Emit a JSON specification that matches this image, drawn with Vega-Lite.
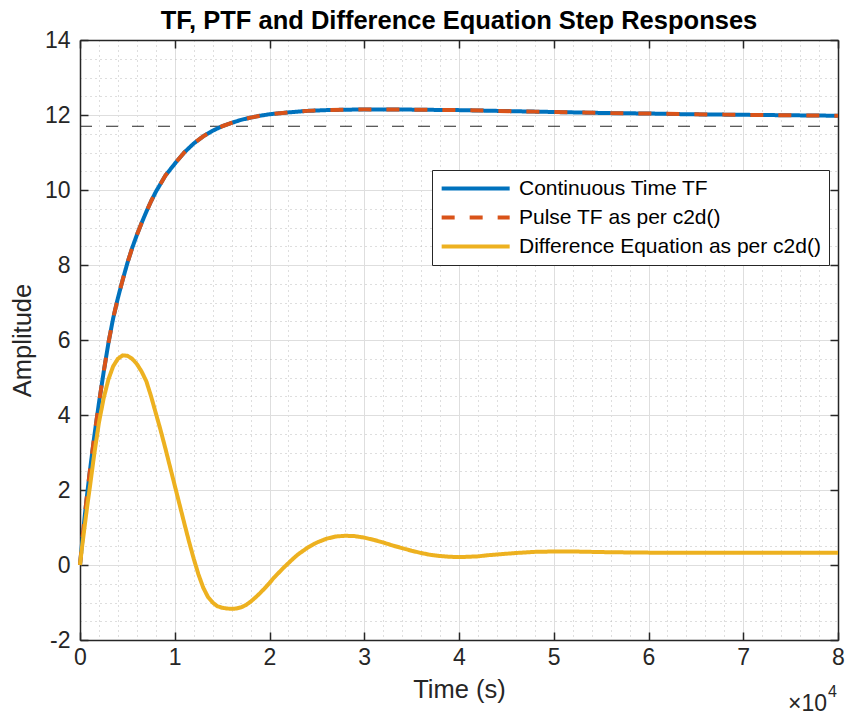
{
  "$schema": "https://vega.github.io/schema/vega-lite/v6.json",
  "width": 758,
  "height": 600,
  "autosize": {"type": "none"},
  "padding": {"left": 80, "top": 40, "right": 7, "bottom": 75},
  "background": "white",
  "config": {"view": {"stroke": null}, "font": "Liberation Sans"},
  "title": {"text": "TF, PTF and Difference Equation Step Responses", "fontSize": 25.5, "fontWeight": "bold", "font": "Liberation Sans", "color": "#000000", "offset": 9, "dy": 14, "anchor": "middle"},
  "datasets": {
    "resp": [
      {"t": 0, "y": 0, "s": "Continuous Time TF"},
      {"t": 250, "y": 0.67, "s": "Continuous Time TF"},
      {"t": 500, "y": 1.3, "s": "Continuous Time TF"},
      {"t": 750, "y": 1.88, "s": "Continuous Time TF"},
      {"t": 1000, "y": 2.42, "s": "Continuous Time TF"},
      {"t": 1500, "y": 3.42, "s": "Continuous Time TF"},
      {"t": 2000, "y": 4.32, "s": "Continuous Time TF"},
      {"t": 2500, "y": 5.15, "s": "Continuous Time TF"},
      {"t": 3000, "y": 5.92, "s": "Continuous Time TF"},
      {"t": 3500, "y": 6.58, "s": "Continuous Time TF"},
      {"t": 4000, "y": 7.12, "s": "Continuous Time TF"},
      {"t": 4500, "y": 7.6, "s": "Continuous Time TF"},
      {"t": 5000, "y": 8.05, "s": "Continuous Time TF"},
      {"t": 5500, "y": 8.45, "s": "Continuous Time TF"},
      {"t": 6000, "y": 8.8, "s": "Continuous Time TF"},
      {"t": 6500, "y": 9.12, "s": "Continuous Time TF"},
      {"t": 7000, "y": 9.42, "s": "Continuous Time TF"},
      {"t": 7500, "y": 9.7, "s": "Continuous Time TF"},
      {"t": 8000, "y": 9.95, "s": "Continuous Time TF"},
      {"t": 9000, "y": 10.38, "s": "Continuous Time TF"},
      {"t": 10000, "y": 10.7, "s": "Continuous Time TF"},
      {"t": 11000, "y": 11.0, "s": "Continuous Time TF"},
      {"t": 12000, "y": 11.24, "s": "Continuous Time TF"},
      {"t": 13000, "y": 11.43, "s": "Continuous Time TF"},
      {"t": 14000, "y": 11.58, "s": "Continuous Time TF"},
      {"t": 15000, "y": 11.7, "s": "Continuous Time TF"},
      {"t": 16000, "y": 11.79, "s": "Continuous Time TF"},
      {"t": 17000, "y": 11.87, "s": "Continuous Time TF"},
      {"t": 18000, "y": 11.93, "s": "Continuous Time TF"},
      {"t": 19000, "y": 11.98, "s": "Continuous Time TF"},
      {"t": 20000, "y": 12.02, "s": "Continuous Time TF"},
      {"t": 22000, "y": 12.07, "s": "Continuous Time TF"},
      {"t": 24000, "y": 12.11, "s": "Continuous Time TF"},
      {"t": 26000, "y": 12.13, "s": "Continuous Time TF"},
      {"t": 28000, "y": 12.14, "s": "Continuous Time TF"},
      {"t": 30000, "y": 12.15, "s": "Continuous Time TF"},
      {"t": 33000, "y": 12.15, "s": "Continuous Time TF"},
      {"t": 36000, "y": 12.14, "s": "Continuous Time TF"},
      {"t": 40000, "y": 12.13, "s": "Continuous Time TF"},
      {"t": 44000, "y": 12.11, "s": "Continuous Time TF"},
      {"t": 48000, "y": 12.09, "s": "Continuous Time TF"},
      {"t": 52000, "y": 12.07, "s": "Continuous Time TF"},
      {"t": 56000, "y": 12.05, "s": "Continuous Time TF"},
      {"t": 60000, "y": 12.04, "s": "Continuous Time TF"},
      {"t": 64000, "y": 12.02, "s": "Continuous Time TF"},
      {"t": 68000, "y": 12.01, "s": "Continuous Time TF"},
      {"t": 72000, "y": 12.0, "s": "Continuous Time TF"},
      {"t": 76000, "y": 11.99, "s": "Continuous Time TF"},
      {"t": 80000, "y": 11.98, "s": "Continuous Time TF"},

      {"t": 0, "y": 0, "s": "Pulse TF as per c2d()"},
      {"t": 250, "y": 0.67, "s": "Pulse TF as per c2d()"},
      {"t": 500, "y": 1.3, "s": "Pulse TF as per c2d()"},
      {"t": 750, "y": 1.88, "s": "Pulse TF as per c2d()"},
      {"t": 1000, "y": 2.42, "s": "Pulse TF as per c2d()"},
      {"t": 1500, "y": 3.42, "s": "Pulse TF as per c2d()"},
      {"t": 2000, "y": 4.32, "s": "Pulse TF as per c2d()"},
      {"t": 2500, "y": 5.15, "s": "Pulse TF as per c2d()"},
      {"t": 3000, "y": 5.92, "s": "Pulse TF as per c2d()"},
      {"t": 3500, "y": 6.58, "s": "Pulse TF as per c2d()"},
      {"t": 4000, "y": 7.12, "s": "Pulse TF as per c2d()"},
      {"t": 4500, "y": 7.6, "s": "Pulse TF as per c2d()"},
      {"t": 5000, "y": 8.05, "s": "Pulse TF as per c2d()"},
      {"t": 5500, "y": 8.45, "s": "Pulse TF as per c2d()"},
      {"t": 6000, "y": 8.8, "s": "Pulse TF as per c2d()"},
      {"t": 6500, "y": 9.12, "s": "Pulse TF as per c2d()"},
      {"t": 7000, "y": 9.42, "s": "Pulse TF as per c2d()"},
      {"t": 7500, "y": 9.7, "s": "Pulse TF as per c2d()"},
      {"t": 8000, "y": 9.95, "s": "Pulse TF as per c2d()"},
      {"t": 9000, "y": 10.38, "s": "Pulse TF as per c2d()"},
      {"t": 10000, "y": 10.7, "s": "Pulse TF as per c2d()"},
      {"t": 11000, "y": 11.0, "s": "Pulse TF as per c2d()"},
      {"t": 12000, "y": 11.24, "s": "Pulse TF as per c2d()"},
      {"t": 13000, "y": 11.43, "s": "Pulse TF as per c2d()"},
      {"t": 14000, "y": 11.58, "s": "Pulse TF as per c2d()"},
      {"t": 15000, "y": 11.7, "s": "Pulse TF as per c2d()"},
      {"t": 16000, "y": 11.79, "s": "Pulse TF as per c2d()"},
      {"t": 17000, "y": 11.87, "s": "Pulse TF as per c2d()"},
      {"t": 18000, "y": 11.93, "s": "Pulse TF as per c2d()"},
      {"t": 19000, "y": 11.98, "s": "Pulse TF as per c2d()"},
      {"t": 20000, "y": 12.02, "s": "Pulse TF as per c2d()"},
      {"t": 22000, "y": 12.07, "s": "Pulse TF as per c2d()"},
      {"t": 24000, "y": 12.11, "s": "Pulse TF as per c2d()"},
      {"t": 26000, "y": 12.13, "s": "Pulse TF as per c2d()"},
      {"t": 28000, "y": 12.14, "s": "Pulse TF as per c2d()"},
      {"t": 30000, "y": 12.15, "s": "Pulse TF as per c2d()"},
      {"t": 33000, "y": 12.15, "s": "Pulse TF as per c2d()"},
      {"t": 36000, "y": 12.14, "s": "Pulse TF as per c2d()"},
      {"t": 40000, "y": 12.13, "s": "Pulse TF as per c2d()"},
      {"t": 44000, "y": 12.11, "s": "Pulse TF as per c2d()"},
      {"t": 48000, "y": 12.09, "s": "Pulse TF as per c2d()"},
      {"t": 52000, "y": 12.07, "s": "Pulse TF as per c2d()"},
      {"t": 56000, "y": 12.05, "s": "Pulse TF as per c2d()"},
      {"t": 60000, "y": 12.04, "s": "Pulse TF as per c2d()"},
      {"t": 64000, "y": 12.02, "s": "Pulse TF as per c2d()"},
      {"t": 68000, "y": 12.01, "s": "Pulse TF as per c2d()"},
      {"t": 72000, "y": 12.0, "s": "Pulse TF as per c2d()"},
      {"t": 76000, "y": 11.99, "s": "Pulse TF as per c2d()"},
      {"t": 80000, "y": 11.98, "s": "Pulse TF as per c2d()"},

      {"t": 0, "y": 0, "s": "Difference Equation as per c2d()"},
      {"t": 250, "y": 0.55, "s": "Difference Equation as per c2d()"},
      {"t": 500, "y": 1.05, "s": "Difference Equation as per c2d()"},
      {"t": 750, "y": 1.55, "s": "Difference Equation as per c2d()"},
      {"t": 1000, "y": 2.0, "s": "Difference Equation as per c2d()"},
      {"t": 1500, "y": 2.95, "s": "Difference Equation as per c2d()"},
      {"t": 2000, "y": 3.8, "s": "Difference Equation as per c2d()"},
      {"t": 2500, "y": 4.45, "s": "Difference Equation as per c2d()"},
      {"t": 3000, "y": 4.95, "s": "Difference Equation as per c2d()"},
      {"t": 3500, "y": 5.3, "s": "Difference Equation as per c2d()"},
      {"t": 4000, "y": 5.5, "s": "Difference Equation as per c2d()"},
      {"t": 4500, "y": 5.59, "s": "Difference Equation as per c2d()"},
      {"t": 5000, "y": 5.58, "s": "Difference Equation as per c2d()"},
      {"t": 5500, "y": 5.5, "s": "Difference Equation as per c2d()"},
      {"t": 6000, "y": 5.36, "s": "Difference Equation as per c2d()"},
      {"t": 6500, "y": 5.16, "s": "Difference Equation as per c2d()"},
      {"t": 7000, "y": 4.9, "s": "Difference Equation as per c2d()"},
      {"t": 7500, "y": 4.5, "s": "Difference Equation as per c2d()"},
      {"t": 8000, "y": 4.05, "s": "Difference Equation as per c2d()"},
      {"t": 8500, "y": 3.6, "s": "Difference Equation as per c2d()"},
      {"t": 9000, "y": 3.12, "s": "Difference Equation as per c2d()"},
      {"t": 9500, "y": 2.62, "s": "Difference Equation as per c2d()"},
      {"t": 10000, "y": 2.12, "s": "Difference Equation as per c2d()"},
      {"t": 10500, "y": 1.62, "s": "Difference Equation as per c2d()"},
      {"t": 11000, "y": 1.12, "s": "Difference Equation as per c2d()"},
      {"t": 11500, "y": 0.63, "s": "Difference Equation as per c2d()"},
      {"t": 12000, "y": 0.17, "s": "Difference Equation as per c2d()"},
      {"t": 12500, "y": -0.25, "s": "Difference Equation as per c2d()"},
      {"t": 13000, "y": -0.6, "s": "Difference Equation as per c2d()"},
      {"t": 13500, "y": -0.85, "s": "Difference Equation as per c2d()"},
      {"t": 14000, "y": -1.0, "s": "Difference Equation as per c2d()"},
      {"t": 14500, "y": -1.1, "s": "Difference Equation as per c2d()"},
      {"t": 15000, "y": -1.14, "s": "Difference Equation as per c2d()"},
      {"t": 15500, "y": -1.16, "s": "Difference Equation as per c2d()"},
      {"t": 16000, "y": -1.17, "s": "Difference Equation as per c2d()"},
      {"t": 16500, "y": -1.16, "s": "Difference Equation as per c2d()"},
      {"t": 17000, "y": -1.13, "s": "Difference Equation as per c2d()"},
      {"t": 17500, "y": -1.07, "s": "Difference Equation as per c2d()"},
      {"t": 18000, "y": -0.98, "s": "Difference Equation as per c2d()"},
      {"t": 18500, "y": -0.87, "s": "Difference Equation as per c2d()"},
      {"t": 19000, "y": -0.75, "s": "Difference Equation as per c2d()"},
      {"t": 19500, "y": -0.62, "s": "Difference Equation as per c2d()"},
      {"t": 20000, "y": -0.48, "s": "Difference Equation as per c2d()"},
      {"t": 20500, "y": -0.33, "s": "Difference Equation as per c2d()"},
      {"t": 21000, "y": -0.2, "s": "Difference Equation as per c2d()"},
      {"t": 21500, "y": -0.07, "s": "Difference Equation as per c2d()"},
      {"t": 22000, "y": 0.05, "s": "Difference Equation as per c2d()"},
      {"t": 22500, "y": 0.17, "s": "Difference Equation as per c2d()"},
      {"t": 23000, "y": 0.28, "s": "Difference Equation as per c2d()"},
      {"t": 24000, "y": 0.46, "s": "Difference Equation as per c2d()"},
      {"t": 25000, "y": 0.6, "s": "Difference Equation as per c2d()"},
      {"t": 26000, "y": 0.7, "s": "Difference Equation as per c2d()"},
      {"t": 27000, "y": 0.76, "s": "Difference Equation as per c2d()"},
      {"t": 28000, "y": 0.78, "s": "Difference Equation as per c2d()"},
      {"t": 29000, "y": 0.77, "s": "Difference Equation as per c2d()"},
      {"t": 30000, "y": 0.73, "s": "Difference Equation as per c2d()"},
      {"t": 31000, "y": 0.67, "s": "Difference Equation as per c2d()"},
      {"t": 32000, "y": 0.6, "s": "Difference Equation as per c2d()"},
      {"t": 33000, "y": 0.52, "s": "Difference Equation as per c2d()"},
      {"t": 34000, "y": 0.45, "s": "Difference Equation as per c2d()"},
      {"t": 35000, "y": 0.38, "s": "Difference Equation as per c2d()"},
      {"t": 36000, "y": 0.32, "s": "Difference Equation as per c2d()"},
      {"t": 37000, "y": 0.27, "s": "Difference Equation as per c2d()"},
      {"t": 38000, "y": 0.24, "s": "Difference Equation as per c2d()"},
      {"t": 39000, "y": 0.22, "s": "Difference Equation as per c2d()"},
      {"t": 40000, "y": 0.21, "s": "Difference Equation as per c2d()"},
      {"t": 41000, "y": 0.22, "s": "Difference Equation as per c2d()"},
      {"t": 42000, "y": 0.23, "s": "Difference Equation as per c2d()"},
      {"t": 43000, "y": 0.26, "s": "Difference Equation as per c2d()"},
      {"t": 44000, "y": 0.28, "s": "Difference Equation as per c2d()"},
      {"t": 46000, "y": 0.32, "s": "Difference Equation as per c2d()"},
      {"t": 48000, "y": 0.35, "s": "Difference Equation as per c2d()"},
      {"t": 50000, "y": 0.36, "s": "Difference Equation as per c2d()"},
      {"t": 52000, "y": 0.36, "s": "Difference Equation as per c2d()"},
      {"t": 54000, "y": 0.35, "s": "Difference Equation as per c2d()"},
      {"t": 56000, "y": 0.34, "s": "Difference Equation as per c2d()"},
      {"t": 60000, "y": 0.33, "s": "Difference Equation as per c2d()"},
      {"t": 65000, "y": 0.33, "s": "Difference Equation as per c2d()"},
      {"t": 70000, "y": 0.33, "s": "Difference Equation as per c2d()"},
      {"t": 75000, "y": 0.33, "s": "Difference Equation as per c2d()"},
      {"t": 80000, "y": 0.33, "s": "Difference Equation as per c2d()"}
    ]
  },
  "layer": [
    {
      "data": {"values": [{}]},
      "mark": {"type": "rule", "color": "#262626", "strokeWidth": 1, "strokeDash": [12, 14]},
      "encoding": {
        "x": {"datum": 0, "type": "quantitative", "scale": {"domain": [0, 80000], "nice": false, "zero": false},
          "axis": {"orient": "top", "title": null, "labels": false, "grid": false, "values": [0, 10000, 20000, 30000, 40000, 50000, 60000, 70000, 80000], "domainColor": "#262626", "domainWidth": 1.5, "tickColor": "#262626", "tickWidth": 1.5, "tickSize": -8}},
        "x2": {"datum": 80000},
        "y": {"datum": 11.7, "type": "quantitative", "scale": {"domain": [-2, 14], "nice": false, "zero": false},
          "axis": {"orient": "right", "title": null, "labels": false, "grid": false, "values": [-2, 0, 2, 4, 6, 8, 10, 12, 14], "domainColor": "#262626", "domainWidth": 1.5, "tickColor": "#262626", "tickWidth": 1.5, "tickSize": -8}}
      }
    },
    {
      "data": {"name": "resp"},
      "mark": {"type": "line", "strokeWidth": 4, "strokeCap": "butt", "strokeJoin": "round"},
      "encoding": {
        "x": {"field": "t", "type": "quantitative", "scale": {"domain": [0, 80000], "nice": false, "zero": false},
          "axis": {
            "orient": "bottom", "title": "Time (s)",
            "values": [0, 2000, 4000, 6000, 8000, 10000, 12000, 14000, 16000, 18000, 20000, 22000, 24000, 26000, 28000, 30000, 32000, 34000, 36000, 38000, 40000, 42000, 44000, 46000, 48000, 50000, 52000, 54000, 56000, 58000, 60000, 62000, 64000, 66000, 68000, 70000, 72000, 74000, 76000, 78000, 80000],
            "labelExpr": "datum.value % 10000 === 0 ? '' + (datum.value / 10000) : ''",
            "labelFontSize": 23, "labelColor": "#262626", "labelPadding": 14, "labelFlush": false, "labelOverlap": false, "labelBound": false,
            "titleFontSize": 25.5, "titleFontWeight": "normal", "titleColor": "#262626", "titlePadding": 8,
            "domainColor": "#262626", "domainWidth": 1.5,
            "tickColor": "#262626", "tickWidth": 1.5, "tickSize": -8,
            "tickOpacity": {"condition": {"test": "datum.value % 10000 === 0", "value": 1}, "value": 0},
            "grid": true, "gridWidth": 1,
            "gridColor": {"condition": {"test": "datum.value % 10000 === 0", "value": "#dedede"}, "value": "#bdbdbd"},
            "gridDash": {"condition": {"test": "datum.value % 10000 === 0", "value": []}, "value": [1, 4]}
          }},
        "y": {"field": "y", "type": "quantitative", "scale": {"domain": [-2, 14], "nice": false, "zero": false},
          "axis": {
            "orient": "left", "title": "Amplitude",
            "values": [-2, -1.5, -1, -0.5, 0, 0.5, 1, 1.5, 2, 2.5, 3, 3.5, 4, 4.5, 5, 5.5, 6, 6.5, 7, 7.5, 8, 8.5, 9, 9.5, 10, 10.5, 11, 11.5, 12, 12.5, 13, 13.5, 14],
            "labelExpr": "datum.value % 2 === 0 ? '' + datum.value : ''",
            "labelFontSize": 23, "labelColor": "#262626", "labelPadding": 18, "labelFlush": false, "labelOverlap": false, "labelBound": false,
            "titleFontSize": 25.5, "titleFontWeight": "normal", "titleColor": "#262626", "titlePadding": 9,
            "domainColor": "#262626", "domainWidth": 1.5,
            "tickColor": "#262626", "tickWidth": 1.5, "tickSize": -8,
            "tickOpacity": {"condition": {"test": "datum.value % 2 === 0", "value": 1}, "value": 0},
            "grid": true, "gridWidth": 1,
            "gridColor": {"condition": {"test": "datum.value % 2 === 0", "value": "#dedede"}, "value": "#bdbdbd"},
            "gridDash": {"condition": {"test": "datum.value % 2 === 0", "value": []}, "value": [1, 4]}
          }},
        "color": {"field": "s", "type": "nominal",
          "scale": {"domain": ["Continuous Time TF", "Pulse TF as per c2d()", "Difference Equation as per c2d()"], "range": ["#0072BD", "#D95319", "#EDB120"]},
          "legend": {"title": null, "orient": "none", "legendX": 352, "legendY": 130, "symbolType": "M-1.3,0H8.7", "symbolSize": 185, "symbolStrokeWidth": 4, "labelFontSize": 21, "labelColor": "#000000", "labelLimit": 500, "strokeColor": "#262626", "fillColor": "#ffffff", "padding": 8, "rowPadding": 7, "labelOffset": 58}},
        "strokeDash": {"field": "s", "type": "nominal",
          "scale": {"domain": ["Continuous Time TF", "Pulse TF as per c2d()", "Difference Equation as per c2d()"], "range": [[1, 0], [13, 15], [1, 0]]},
          "legend": {"title": null, "orient": "none", "legendX": 352, "legendY": 130, "symbolType": "M-1.3,0H8.7", "symbolSize": 185, "symbolStrokeWidth": 4, "labelFontSize": 21, "labelColor": "#000000", "labelLimit": 500, "strokeColor": "#262626", "fillColor": "#ffffff", "padding": 8, "rowPadding": 7, "labelOffset": 58}}
      }
    },
    {
      "data": {"values": [{}]},
      "mark": {"type": "text", "text": "×10", "fontSize": 23, "color": "#262626", "align": "right", "baseline": "alphabetic", "dx": -11, "dy": 71},
      "encoding": {
        "x": {"datum": 80000, "type": "quantitative", "axis": null},
        "y": {"datum": -2, "type": "quantitative", "axis": null}
      }
    },
    {
      "data": {"values": [{}]},
      "mark": {"type": "text", "text": "4", "fontSize": 16, "color": "#262626", "align": "left", "baseline": "alphabetic", "dx": -10, "dy": 57},
      "encoding": {
        "x": {"datum": 80000, "type": "quantitative", "axis": null},
        "y": {"datum": -2, "type": "quantitative", "axis": null}
      }
    }
  ]
}
